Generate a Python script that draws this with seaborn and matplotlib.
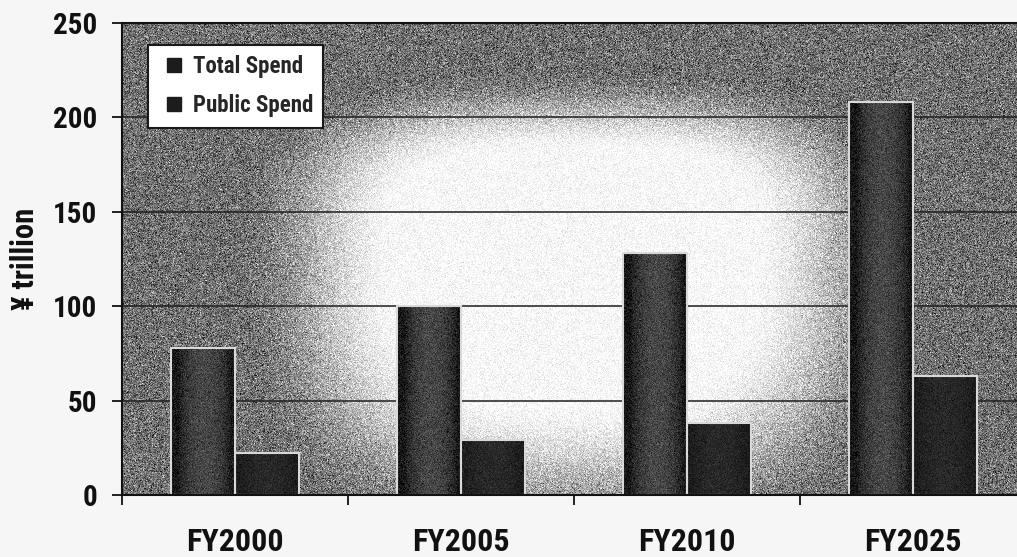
import numpy as np
import pandas as pd
import matplotlib
matplotlib.use("Agg")
import matplotlib.pyplot as plt
import seaborn as sns
from matplotlib.lines import Line2D

# ---- data ----
years = ["FY2000", "FY2005", "FY2010", "FY2025"]
series = ["Total Spend", "Public Spend"]
total_spend = [78, 100, 128, 208]
public_spend = [22, 29, 38, 63]
y_ticks = [0, 50, 100, 150, 200, 250]
y_label = "¥ trillion"

df = pd.DataFrame({
    "year": years * len(series),
    "series": [series[0]] * len(years) + [series[1]] * len(years),
    "value": total_spend + public_spend,
})

sns.set_theme(style="white")
plt.rcParams["font.family"] = ["Liberation Sans Narrow", "Roboto Condensed",
                               "Asap Condensed", "DejaVu Sans"]
plt.rcParams["font.weight"] = "bold"

W_PX, H_PX = 1017, 557
fig = plt.figure(figsize=(W_PX / 100, H_PX / 100), dpi=100, facecolor="#f6f6f6")
ax_l, ax_r, ax_t, ax_b = 122, 1026, 23, 495
ax = fig.add_axes([ax_l / W_PX, 1 - ax_b / H_PX, (ax_r - ax_l) / W_PX, (ax_b - ax_t) / H_PX])

rng = np.random.default_rng(11)
n_cat = len(years)
y_max = y_ticks[-1]

# ---- shaded backdrop: bright centre fading to grey edges, with print grain ----
aw, ah = ax_r - ax_l, ax_b - ax_t
xs = ax_l + np.arange(aw) + 0.5
ys = ax_t + np.arange(ah) + 0.5
X, Y = np.meshgrid(xs, ys)
cx, cy = 575, 240
dx = (X - cx) / 400
dy = np.where(Y < cy, (Y - cy) / 200, (Y - cy) / 365)
d = (np.abs(dx) ** 3 + np.abs(dy) ** 3) ** (1 / 3)
t = np.clip((d - 0.45) / 0.4, 0, 1)
s = t * t * (3 - 2 * t)
v = 0.97 - 0.53 * s
v = v + rng.normal(0, 1, v.shape) * (0.035 + 0.45 * v * (1 - v))
v = np.clip(v, 0, 1)
ax.imshow(v, cmap="gray", vmin=0, vmax=1, extent=(-0.5, n_cat - 0.5, 0, y_max),
          aspect="auto", interpolation="nearest", zorder=0.1)

# ---- bars ----
sns.barplot(data=df, x="year", y="value", hue="series", palette=["#262626", "#1a1a1a"],
            width=0.566, saturation=1, edgecolor="#d8d8d8", linewidth=1.5,
            legend=False, ax=ax, zorder=2)

px_x = aw / n_cat
px_y = ah / y_max
for ci, cont in enumerate(ax.containers):
    for bar in cont:
        x0, w, h = bar.get_x(), bar.get_width(), bar.get_height()
        nw = max(int(round(w * px_x)), 2)
        nh = max(int(round(h * px_y)), 2)
        u = (np.arange(nw) + 0.5) / nw
        if ci == 0:
            prof = 0.09 + 0.19 * np.clip(np.sin(np.pi * (u - 0.12) / 0.82), 0, 1) ** 0.7
            grain = 0.06
        else:
            prof = 0.10 + 0.06 * np.sin(np.pi * u)
            grain = 0.035
        tex = np.tile(prof, (nh, 1)) + rng.normal(0, grain, (nh, nw))
        im = ax.imshow(np.clip(tex, 0, 1), cmap="gray", vmin=0, vmax=1,
                       extent=(x0, x0 + w, 0, h), aspect="auto",
                       interpolation="nearest", zorder=2.1)
        im.set_clip_path(bar)
        bar.set_facecolor("none")
        bar.set_zorder(2.2)

ax.set_xlim(-0.5, n_cat - 0.5)
ax.set_ylim(0, y_max)

# ---- grid, spines, ticks ----
ax.set_axisbelow(True)
ax.yaxis.grid(True, color="#1e1e1e", linewidth=1.1)
ax.xaxis.grid(False)
for side in ["left", "bottom", "top"]:
    ax.spines[side].set_visible(True)
    ax.spines[side].set_color("#111111")
    ax.spines[side].set_linewidth(1.5)

ax.set_yticks(y_ticks)
ax.tick_params(axis="y", which="major", left=True, direction="out", length=7, width=1.3,
               pad=11, labelsize=21, colors="#111111")
ax.set_xticks(range(n_cat))
ax.set_xticklabels(years)
ax.set_xticks(np.arange(n_cat) - 0.5, minor=True)
ax.tick_params(axis="x", which="major", bottom=False, length=0, pad=23, labelsize=23,
               colors="#111111")
ax.tick_params(axis="x", which="minor", bottom=True, direction="out", length=7, width=1.3,
               color="#111111")

ax.set_xlabel("")
ax.set_ylabel(y_label, fontsize=22, fontweight="bold", labelpad=9, color="#111111")

# ---- legend ----
handles = [Line2D([], [], marker="s", linestyle="none", markersize=9.5,
                  markerfacecolor="#1c1c1c", markeredgecolor="#1c1c1c") for _ in series]
leg = ax.legend(handles, series, loc="upper left",
                bbox_to_anchor=((148 - ax_l) / aw, (ax_b - 45) / ah), borderaxespad=0,
                frameon=True, fancybox=False, framealpha=1, edgecolor="#1a1a1a",
                facecolor="white", prop=dict(size=16.5, weight="bold"),
                handlelength=1.4, handletextpad=0.1, labelspacing=0.7, borderpad=0.45)
leg.get_frame().set_linewidth(1.5)
leg.set_zorder(5)

fig.savefig("out.png", dpi=100, facecolor=fig.get_facecolor())
